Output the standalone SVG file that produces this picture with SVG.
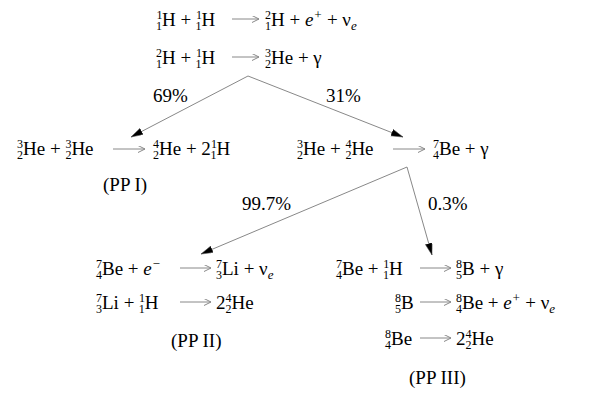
<svg xmlns="http://www.w3.org/2000/svg" width="599" height="415" viewBox="0 0 599 415">
<defs>
<style>
.t{font-family:"Liberation Serif","Times New Roman",serif;font-size:19px;fill:#000}
.s{font-size:12px}
.e{font-size:13px;font-style:italic}
.i{font-style:italic}
.h{stroke:#888;stroke-width:1;fill:none}
.d{stroke:#888;stroke-width:1;fill:none}
</style>
<marker id="open" markerWidth="8" markerHeight="8" refX="7" refY="3.5" orient="auto" markerUnits="userSpaceOnUse">
<path d="M0,0 L7,3.5 L0,7" fill="none" stroke="#888" stroke-width="1"/>
</marker>
<marker id="solid" markerWidth="13" markerHeight="8" refX="12" refY="3.5" orient="auto" markerUnits="userSpaceOnUse">
<path d="M0,0 L12,3.5 L0,7 Z" fill="#000" stroke="#555" stroke-width="0.5"/>
</marker>
</defs>
<rect width="599" height="415" fill="#fff"/>
<g id="connectors">
<line class="h" x1="232" y1="19" x2="259" y2="19" marker-end="url(#open)"/>
<line class="h" x1="232" y1="57" x2="259" y2="57" marker-end="url(#open)"/>
<line class="h" x1="113" y1="149" x2="145" y2="149" marker-end="url(#open)"/>
<line class="h" x1="393" y1="149" x2="425" y2="149" marker-end="url(#open)"/>
<line class="h" x1="180" y1="268" x2="211" y2="268" marker-end="url(#open)"/>
<line class="h" x1="180" y1="302" x2="211" y2="302" marker-end="url(#open)"/>
<line class="h" x1="420" y1="268" x2="451" y2="268" marker-end="url(#open)"/>
<line class="h" x1="420" y1="302" x2="451" y2="302" marker-end="url(#open)"/>
<line class="h" x1="420" y1="338" x2="451" y2="338" marker-end="url(#open)"/>
<line class="d" x1="248" y1="76" x2="131" y2="137" marker-end="url(#solid)"/>
<line class="d" x1="248" y1="76" x2="403" y2="137" marker-end="url(#solid)"/>
<line class="d" x1="407" y1="167" x2="201" y2="254" marker-end="url(#solid)"/>
<line class="d" x1="407" y1="167" x2="432" y2="255" marker-end="url(#solid)"/>
</g>
<g id="r1">
<text class="t" x="156" y="26"><tspan class="s" dy="-7">1</tspan><tspan class="s" dx="-6" dy="10.5">1</tspan><tspan dy="-3.5">H + </tspan><tspan class="s" dy="-7">1</tspan><tspan class="s" dx="-6" dy="10.5">1</tspan><tspan dy="-3.5">H</tspan></text>
<text class="t" x="265" y="26"><tspan class="s" dy="-7">2</tspan><tspan class="s" dx="-6" dy="10.5">1</tspan><tspan dy="-3.5">H + </tspan><tspan class="i">e</tspan><tspan class="e" font-style="normal" dy="-7">+</tspan><tspan dy="7"> + ν</tspan><tspan class="e" dy="4">e</tspan></text>
</g>
<g id="r2">
<text class="t" x="156" y="64"><tspan class="s" dy="-7">2</tspan><tspan class="s" dx="-6" dy="10.5">1</tspan><tspan dy="-3.5">H + </tspan><tspan class="s" dy="-7">1</tspan><tspan class="s" dx="-6" dy="10.5">1</tspan><tspan dy="-3.5">H</tspan></text>
<text class="t" x="265" y="64"><tspan class="s" dy="-7">3</tspan><tspan class="s" dx="-6" dy="10.5">2</tspan><tspan dy="-3.5">He + γ</tspan></text>
</g>
<g id="labels1">
<text class="t" x="153" y="102">69%</text>
<text class="t" x="326" y="102">31%</text>
</g>
<g id="ppI">
<text class="t" x="17" y="155"><tspan class="s" dy="-7">3</tspan><tspan class="s" dx="-6" dy="10.5">2</tspan><tspan dy="-3.5">He + </tspan><tspan class="s" dy="-7">3</tspan><tspan class="s" dx="-6" dy="10.5">2</tspan><tspan dy="-3.5">He</tspan></text>
<text class="t" x="153" y="155"><tspan class="s" dy="-7">4</tspan><tspan class="s" dx="-6" dy="10.5">2</tspan><tspan dy="-3.5">He + 2</tspan><tspan class="s" dy="-7">1</tspan><tspan class="s" dx="-6" dy="10.5">1</tspan><tspan dy="-3.5">H</tspan></text>
<text class="t" x="103" y="191">(PP I)</text>
</g>
<g id="r3b">
<text class="t" x="297" y="155"><tspan class="s" dy="-7">3</tspan><tspan class="s" dx="-6" dy="10.5">2</tspan><tspan dy="-3.5">He + </tspan><tspan class="s" dy="-7">4</tspan><tspan class="s" dx="-6" dy="10.5">2</tspan><tspan dy="-3.5">He</tspan></text>
<text class="t" x="433" y="155"><tspan class="s" dy="-7">7</tspan><tspan class="s" dx="-6" dy="10.5">4</tspan><tspan dy="-3.5">Be + γ</tspan></text>
</g>
<g id="labels2">
<text class="t" x="242" y="210">99.7%</text>
<text class="t" x="428" y="210">0.3%</text>
</g>
<g id="ppII">
<text class="t" x="96" y="275"><tspan class="s" dy="-7">7</tspan><tspan class="s" dx="-6" dy="10.5">4</tspan><tspan dy="-3.5">Be + </tspan><tspan class="i">e</tspan><tspan class="e" font-style="normal" dy="-7">−</tspan></text>
<text class="t" x="216" y="275"><tspan class="s" dy="-7">7</tspan><tspan class="s" dx="-6" dy="10.5">3</tspan><tspan dy="-3.5">Li + ν</tspan><tspan class="e" dy="4">e</tspan></text>
<text class="t" x="96" y="309"><tspan class="s" dy="-7">7</tspan><tspan class="s" dx="-6" dy="10.5">3</tspan><tspan dy="-3.5">Li + </tspan><tspan class="s" dy="-7">1</tspan><tspan class="s" dx="-6" dy="10.5">1</tspan><tspan dy="-3.5">H</tspan></text>
<text class="t" x="216" y="309">2<tspan class="s" dy="-7">4</tspan><tspan class="s" dx="-6" dy="10.5">2</tspan><tspan dy="-3.5">He</tspan></text>
<text class="t" x="171" y="347">(PP II)</text>
</g>
<g id="ppIII">
<text class="t" x="336" y="275"><tspan class="s" dy="-7">7</tspan><tspan class="s" dx="-6" dy="10.5">4</tspan><tspan dy="-3.5">Be + </tspan><tspan class="s" dy="-7">1</tspan><tspan class="s" dx="-6" dy="10.5">1</tspan><tspan dy="-3.5">H</tspan></text>
<text class="t" x="456" y="275"><tspan class="s" dy="-7">8</tspan><tspan class="s" dx="-6" dy="10.5">5</tspan><tspan dy="-3.5">B + γ</tspan></text>
<text class="t" x="395" y="309"><tspan class="s" dy="-7">8</tspan><tspan class="s" dx="-6" dy="10.5">5</tspan><tspan dy="-3.5">B</tspan></text>
<text class="t" x="456" y="309"><tspan class="s" dy="-7">8</tspan><tspan class="s" dx="-6" dy="10.5">4</tspan><tspan dy="-3.5">Be + </tspan><tspan class="i">e</tspan><tspan class="e" font-style="normal" dy="-7">+</tspan><tspan dy="7"> + ν</tspan><tspan class="e" dy="4">e</tspan></text>
<text class="t" x="385" y="345"><tspan class="s" dy="-7">8</tspan><tspan class="s" dx="-6" dy="10.5">4</tspan><tspan dy="-3.5">Be</tspan></text>
<text class="t" x="456" y="345">2<tspan class="s" dy="-7">4</tspan><tspan class="s" dx="-6" dy="10.5">2</tspan><tspan dy="-3.5">He</tspan></text>
<text class="t" x="409" y="384">(PP III)</text>
</g>
</svg>
